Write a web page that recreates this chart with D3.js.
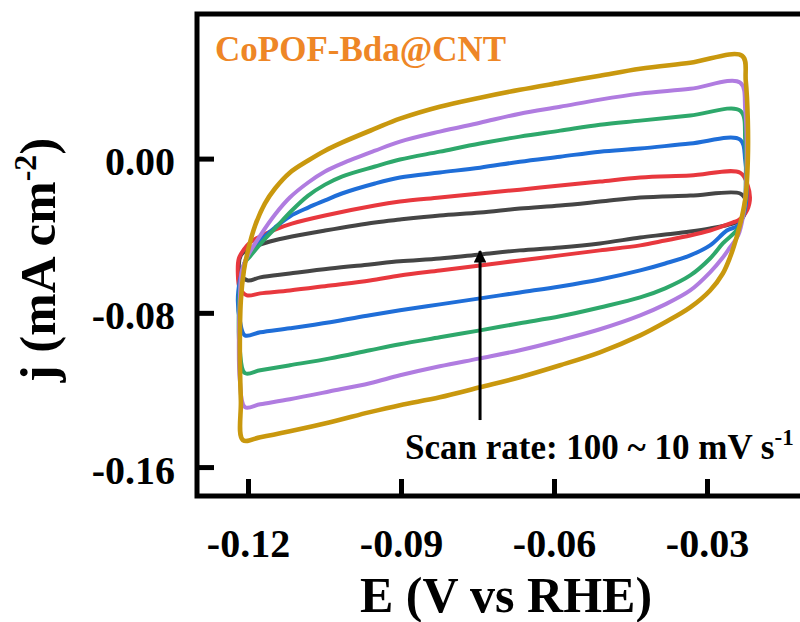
<!DOCTYPE html>
<html><head><meta charset="utf-8">
<script src="https://cdn.jsdelivr.net/npm/d3@7/dist/d3.min.js"></script>
<style>
html,body{margin:0;padding:0;background:#fff;}
svg text{font-family:"Liberation Serif","Times New Roman",serif;font-weight:bold;}
</style></head>
<body><svg id="c" width="800" height="622"></svg>
<script>
// ---- data: CV loops, [E (V vs RHE), j (mA cm^-2)] in scan order ----
const scanRates = [10, 20, 40, 60, 80, 100];
const seriesColors = ["#454545", "#E8383E", "#1F6ED8", "#2EA86B", "#B07CE0", "#C9980E"];
const xTicks = [-0.12, -0.09, -0.06, -0.03];
const yTicks = [0.00, -0.08, -0.16];

const cv10 = [[-0.1200,-0.0632],[-0.1214,-0.0606],[-0.1218,-0.0554],[-0.1214,-0.0502],[-0.1204,-0.0476],[-0.1192,-0.0461],[-0.1157,-0.0430],[-0.1114,-0.0404],[-0.1049,-0.0373],[-0.0951,-0.0331],[-0.0902,-0.0316],[-0.0824,-0.0295],[-0.0745,-0.0280],[-0.0667,-0.0259],[-0.0588,-0.0243],[-0.0510,-0.0223],[-0.0431,-0.0202],[-0.0333,-0.0192],[-0.0235,-0.0181],[-0.0224,-0.0217],[-0.0225,-0.0280],[-0.0235,-0.0321],[-0.0249,-0.0337],[-0.0294,-0.0362],[-0.0333,-0.0378],[-0.0382,-0.0394],[-0.0431,-0.0409],[-0.0510,-0.0440],[-0.0588,-0.0461],[-0.0667,-0.0476],[-0.0745,-0.0497],[-0.0824,-0.0518],[-0.0902,-0.0533],[-0.0961,-0.0549],[-0.1039,-0.0570],[-0.1118,-0.0596],[-0.1176,-0.0616]];
const cv20 = [[-0.1202,-0.0709],[-0.1216,-0.0673],[-0.1220,-0.0590],[-0.1218,-0.0518],[-0.1208,-0.0471],[-0.1196,-0.0435],[-0.1180,-0.0409],[-0.1147,-0.0368],[-0.1114,-0.0337],[-0.1049,-0.0295],[-0.0951,-0.0243],[-0.0902,-0.0223],[-0.0824,-0.0202],[-0.0745,-0.0181],[-0.0667,-0.0161],[-0.0588,-0.0140],[-0.0510,-0.0119],[-0.0431,-0.0098],[-0.0333,-0.0088],[-0.0235,-0.0073],[-0.0220,-0.0140],[-0.0216,-0.0217],[-0.0225,-0.0285],[-0.0239,-0.0321],[-0.0249,-0.0331],[-0.0294,-0.0373],[-0.0333,-0.0399],[-0.0382,-0.0425],[-0.0431,-0.0450],[-0.0510,-0.0476],[-0.0588,-0.0502],[-0.0667,-0.0528],[-0.0745,-0.0554],[-0.0824,-0.0580],[-0.0902,-0.0606],[-0.0961,-0.0632],[-0.1039,-0.0658],[-0.1118,-0.0684],[-0.1176,-0.0699]];
const cv40 = [[-0.1206,-0.0917],[-0.1216,-0.0839],[-0.1220,-0.0735],[-0.1216,-0.0632],[-0.1208,-0.0549],[-0.1200,-0.0502],[-0.1180,-0.0435],[-0.1147,-0.0357],[-0.1118,-0.0300],[-0.1082,-0.0254],[-0.1049,-0.0217],[-0.1016,-0.0181],[-0.0951,-0.0129],[-0.0902,-0.0098],[-0.0824,-0.0072],[-0.0745,-0.0047],[-0.0667,-0.0016],[-0.0588,0.0010],[-0.0510,0.0036],[-0.0431,0.0052],[-0.0333,0.0078],[-0.0235,0.0098],[-0.0225,-0.0010],[-0.0222,-0.0166],[-0.0227,-0.0280],[-0.0239,-0.0347],[-0.0261,-0.0373],[-0.0294,-0.0450],[-0.0333,-0.0502],[-0.0382,-0.0544],[-0.0431,-0.0580],[-0.0510,-0.0627],[-0.0588,-0.0663],[-0.0667,-0.0694],[-0.0745,-0.0725],[-0.0824,-0.0756],[-0.0902,-0.0787],[-0.0961,-0.0813],[-0.1039,-0.0849],[-0.1118,-0.0880],[-0.1176,-0.0901]];
const cv60 = [[-0.1206,-0.1113],[-0.1216,-0.0994],[-0.1218,-0.0787],[-0.1214,-0.0632],[-0.1206,-0.0539],[-0.1196,-0.0507],[-0.1173,-0.0435],[-0.1147,-0.0362],[-0.1114,-0.0269],[-0.1082,-0.0192],[-0.1049,-0.0135],[-0.1016,-0.0093],[-0.0951,-0.0041],[-0.0902,-0.0005],[-0.0824,0.0036],[-0.0745,0.0078],[-0.0667,0.0114],[-0.0588,0.0145],[-0.0510,0.0176],[-0.0431,0.0197],[-0.0333,0.0223],[-0.0235,0.0249],[-0.0225,0.0093],[-0.0224,-0.0114],[-0.0227,-0.0269],[-0.0239,-0.0362],[-0.0269,-0.0440],[-0.0294,-0.0518],[-0.0333,-0.0606],[-0.0382,-0.0673],[-0.0431,-0.0720],[-0.0510,-0.0772],[-0.0588,-0.0818],[-0.0667,-0.0854],[-0.0745,-0.0891],[-0.0824,-0.0927],[-0.0902,-0.0963],[-0.0961,-0.0994],[-0.1039,-0.1036],[-0.1118,-0.1072],[-0.1176,-0.1098]];
const cv80 = [[-0.1206,-0.1289],[-0.1216,-0.1150],[-0.1218,-0.0942],[-0.1216,-0.0735],[-0.1212,-0.0580],[-0.1200,-0.0502],[-0.1176,-0.0399],[-0.1147,-0.0290],[-0.1118,-0.0202],[-0.1082,-0.0124],[-0.1049,-0.0067],[-0.1016,-0.0026],[-0.0951,0.0041],[-0.0902,0.0088],[-0.0824,0.0140],[-0.0745,0.0186],[-0.0667,0.0233],[-0.0588,0.0269],[-0.0510,0.0306],[-0.0431,0.0337],[-0.0333,0.0362],[-0.0235,0.0394],[-0.0225,0.0249],[-0.0222,0.0041],[-0.0224,-0.0166],[-0.0229,-0.0295],[-0.0239,-0.0399],[-0.0255,-0.0461],[-0.0269,-0.0513],[-0.0294,-0.0590],[-0.0333,-0.0684],[-0.0382,-0.0756],[-0.0431,-0.0813],[-0.0510,-0.0885],[-0.0588,-0.0942],[-0.0667,-0.0994],[-0.0745,-0.1036],[-0.0824,-0.1077],[-0.0902,-0.1124],[-0.0961,-0.1165],[-0.1039,-0.1207],[-0.1118,-0.1248],[-0.1176,-0.1274]];
const cv100 = [[-0.1210,-0.1460],[-0.1214,-0.1253],[-0.1216,-0.0994],[-0.1214,-0.0735],[-0.1208,-0.0580],[-0.1200,-0.0476],[-0.1186,-0.0347],[-0.1167,-0.0233],[-0.1147,-0.0155],[-0.1118,-0.0073],[-0.1082,-0.0010],[-0.1049,0.0041],[-0.1016,0.0083],[-0.0951,0.0155],[-0.0902,0.0207],[-0.0824,0.0269],[-0.0745,0.0316],[-0.0667,0.0357],[-0.0588,0.0394],[-0.0510,0.0430],[-0.0431,0.0466],[-0.0333,0.0497],[-0.0231,0.0533],[-0.0224,0.0404],[-0.0220,0.0197],[-0.0220,-0.0010],[-0.0224,-0.0192],[-0.0231,-0.0295],[-0.0241,-0.0399],[-0.0255,-0.0513],[-0.0269,-0.0596],[-0.0294,-0.0684],[-0.0333,-0.0772],[-0.0382,-0.0849],[-0.0431,-0.0917],[-0.0510,-0.1005],[-0.0588,-0.1072],[-0.0667,-0.1134],[-0.0745,-0.1186],[-0.0824,-0.1238],[-0.0902,-0.1279],[-0.0961,-0.1315],[-0.1039,-0.1367],[-0.1118,-0.1414],[-0.1176,-0.1445]];
const loops = [cv10, cv20, cv40, cv60, cv80, cv100];

// arrow (scan-rate direction) in data coords
const arrowE = -0.0745;
const arrowFrom = -0.1356, arrowTo = -0.0480;

// ---- layout ----
const svg = d3.select("#c");
const L = 197, R = 809, T = 14, B = 496;
const x = d3.scaleLinear().domain([-0.13, -0.01]).range([L, R]);
const y = d3.scaleLinear().domain([-0.175, 0.075]).range([B, T]);

const defs = svg.append("defs");
defs.append("clipPath").attr("id","clip")
  .append("rect").attr("x",L).attr("y",T).attr("width",R-L).attr("height",B-T);

const line = d3.line().x(d=>x(d[0])).y(d=>y(d[1])).curve(d3.curveCatmullRomClosed.alpha(0.5));
const gl = svg.append("g").attr("clip-path","url(#clip)");
loops.forEach((pts,i)=>{
  gl.append("path").attr("d", line(pts)).attr("fill","none")
    .attr("stroke", seriesColors[i]).attr("stroke-width", i===5?4.6:4)
    .attr("stroke-linejoin","round");
});

// axes with inward ticks
const fmt = d => d.toFixed(2);
const ax = svg.append("g").attr("transform",`translate(0,${B})`)
  .call(d3.axisBottom(x).tickValues(xTicks).tickSize(-17).tickPadding(33).tickFormat(fmt));
const ay = svg.append("g").attr("transform",`translate(${L},0)`)
  .call(d3.axisLeft(y).tickValues(yTicks).tickSize(-17).tickPadding(22).tickFormat(fmt));
[ax, ay].forEach(g=>{
  g.select(".domain").remove();
  g.selectAll(".tick line").attr("stroke","#000").attr("stroke-width",5);
  g.selectAll(".tick text").attr("fill","#000").style("font-size","40px")
   .style("font-family",'"Liberation Serif","Times New Roman",serif').style("font-weight","bold");
});
ay.selectAll(".tick text").attr("dy","0.4em");

// frame
svg.append("rect").attr("x",L).attr("y",T).attr("width",R-L).attr("height",B-T)
  .attr("fill","none").attr("stroke","#000").attr("stroke-width",5);

// axis titles
svg.append("text").attr("x",506).attr("y",612).attr("text-anchor","middle")
  .style("font-size","50px").attr("fill","#000").text("E (V vs RHE)");
const yt = svg.append("text").attr("transform","translate(55,260) rotate(-90)")
  .attr("text-anchor","middle").style("font-size","51px").attr("fill","#000");
yt.append("tspan").text("j (mA cm");
yt.append("tspan").attr("dy","-19").style("font-size","32px").text("-2");
yt.append("tspan").attr("dy","19").text(")");

// sample label
svg.append("text").attr("x",215).attr("y",61).style("font-size","35px")
  .attr("fill","#EE8626").text("CoPOF-Bda@CNT");

// scan-rate annotation
const st = svg.append("text").attr("x",405).attr("y",459).style("font-size","35px").attr("fill","#000");
st.append("tspan").text("Scan rate: 100 ~ 10 mV s");
st.append("tspan").attr("dy","-14").style("font-size","23px").text("-1");

// arrow
defs.append("marker").attr("id","ah").attr("viewBox","0 0 10 10")
  .attr("refX",9).attr("refY",5).attr("markerWidth",6.5).attr("markerHeight",4.2)
  .attr("orient","auto").attr("markerUnits","strokeWidth")
  .append("path").attr("d","M0,0 L10,5 L0,10 Z").attr("fill","#000");
svg.append("line").attr("x1",x(arrowE)).attr("x2",x(arrowE))
  .attr("y1",y(arrowFrom)).attr("y2",y(arrowTo))
  .attr("stroke","#000").attr("stroke-width",3).attr("marker-end","url(#ah)");
</script></body></html>
